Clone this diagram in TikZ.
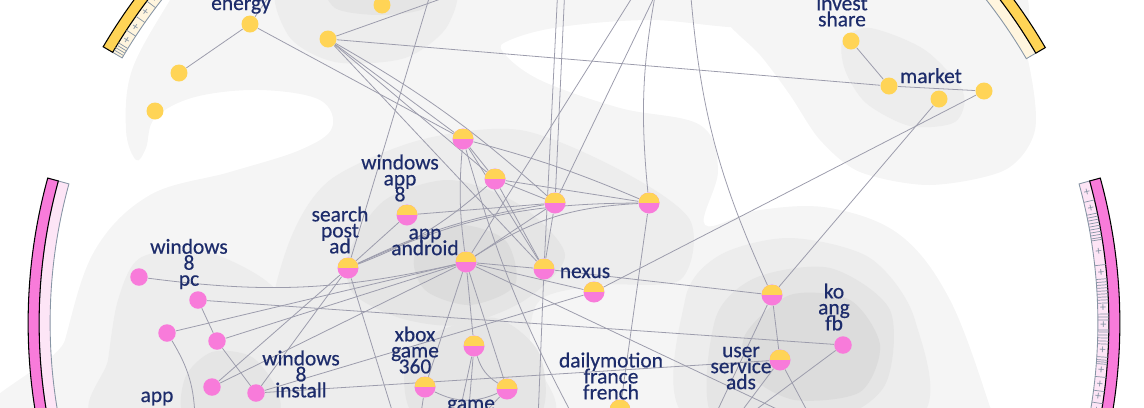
\documentclass[tikz,border=0pt]{standalone}
\usepackage{fontspec}
\setmainfont{Carlito}
\newfontfamily\lblfont{Carlito}[FakeBold=0.5]
\usepackage{tikz}

\definecolor{dotyellow}{HTML}{FFD456}
\definecolor{dotpink}{HTML}{F87BDA}
\definecolor{lightpink}{HTML}{FDE5F6}
\definecolor{lightyellow}{HTML}{FFF5DE}
\definecolor{labelblue}{HTML}{1D2C6B}
\definecolor{edgegray}{HTML}{9C9CAC}
\definecolor{cellgray}{HTML}{8795A5}
\definecolor{dens1}{HTML}{F5F5F5}
\definecolor{dens2}{HTML}{EDEDED}
\definecolor{dens3}{HTML}{E5E5E5}
\definecolor{dens4}{HTML}{DCDCDC}

\pgfdeclarelayer{density}
\pgfdeclarelayer{links}
\pgfsetlayers{density,links,main}

\tikzset{
    ynode/.style={circle, fill=dotyellow, inner sep=0pt, minimum size=0.34cm},
    pnode/.style={circle, fill=dotpink, inner sep=0pt, minimum size=0.35cm},
    hnode/.style={circle, fill=dotpink, inner sep=0pt, minimum size=0.42cm,
        path picture={\fill[dotyellow] (path picture bounding box.west)
            rectangle (path picture bounding box.north east);}},
    lbl/.style={text=labelblue, align=center, inner sep=0pt,
        font=\lblfont\fontsize{12.2}{9.1}\selectfont},
    linkline/.style={draw=edgegray, line width=0.45pt},
    cellmark/.style={text=cellgray, font=\fontsize{7}{7}\selectfont, inner sep=0pt},
}

\begin{document}
\lineskiplimit=-20pt
\begin{tikzpicture}[x=0.02cm, y=-0.02cm]

    \useasboundingbox (0,0) rectangle (1144,407);

    % 1. Draw the yellow, pink and half-and-half dots
    \foreach \nm/\x/\y in {y1/250/24, y2/179/73, y3/155/111, y4/328/39, y5/382/5,
        y6/851/41, y7/889/86, y8/939/99, y9/984/91} {
        \node[ynode] (\nm) at (\x,\y) {};
    }
    \foreach \nm/\x/\y in {p1/139/277, p2/198/300, p3/167/333, p4/217/341,
        p5/212/387, p6/256/393, p7/843/345} {
        \node[pnode] (\nm) at (\x,\y) {};
    }
    \foreach \nm/\x/\y in {h1/463/139, h2/495/179, h3/555/203, h4/649/203,
        h5/407/215, h6/466/262, h7/348/268, h8/544/269, h9/594/292,
        h10/772/295, h11/474/346, h12/425/387, h13/507/389, h14/780/360,
        h15/620/410} {
        \node[hnode] (\nm) at (\x,\y) {};
    }

    % free ends of the links that leave the picture
    \foreach \nm/\x/\y in {t1/277/-15, t2/480/-15, t3/433/-15, t4/558/-15,
        t5/565/-15, t6/640/-15, t7/660/-15, t8/657/-15, t9/690/-15,
        b1/800/420, b2/538/420, b3/713/420, b4/735/420, b5/812/420,
        b6/742/420, b7/195/420, b8/395/420, b9/458/420, b10/468/420,
        b11/420/420, b12/575/420, b13/478/420} {
        \coordinate (\nm) at (\x,\y);
    }

    % 2. Labels
    \node[lbl, anchor=base] (l-energy) at (241,10) {energy};
    \node[lbl] (l-invest) at (842,11) {invest\\share};
    \node[lbl, anchor=base] (l-market) at (931,83) {market};
    \node[lbl] (l-winapp) at (400,178) {windows\\app\\8};
    \node[lbl] (l-search) at (340,230) {search\\post\\ad};
    \node[lbl] (l-android) at (425,242) {app\\android};
    \node[lbl] (l-winpc) at (189,264) {windows\\8\\pc};
    \node[lbl, anchor=base] (l-nexus) at (585,278) {nexus};
    \node[lbl] (l-ko) at (834,307) {ko\\ang\\fb};
    \node[lbl] (l-xbox) at (415,350) {xbox\\game\\360};
    \node[lbl] (l-wininst) at (301,374) {windows\\8\\install};
    \node[lbl] (l-user) at (741,368) {user\\service\\ads};
    \node[lbl] (l-daily) at (611,376) {dailymotion\\france\\french};
    \node[lbl, anchor=base] (l-app) at (157,402) {app};
    \node[lbl, anchor=base] (l-game) at (471,410) {game};

    % 3. Links between the dots
    \begin{pgfonlayer}{links}
        \clip (0,0) rectangle (1144,407);
        \foreach \a/\b in {y1/y2, y1/t1, y1/h1, y4/t2, y4/y7, y7/y9, y6/y7,
            y8/h10, y9/h9, y4/h1, y4/h2, y4/h8, t3/h7, t4/h8, t5/h3, t6/h6,
            t7/h3, h1/h2, h1/h8, h2/h3, h2/h8, h2/h4, h5/h3, h5/h7, h6/h3,
            h6/h8, h6/h9, h6/h11, h6/h13, h6/h12, h6/b1, h3/h8, h4/h15,
            h8/h10, h8/b2, h9/p6, h10/h14, h10/b3, h14/b4, h14/b5, p7/b6,
            p2/p7, p2/p4, p4/p6, p3/h6, p4/h6, p5/h7, p5/h6, p6/h14, h7/p6,
            h7/b8, h11/b9, h11/b10, h12/b11, h13/b13} {
            \draw[linkline] (\a) -- (\b);
        }
        \draw[linkline] (y4) to[bend left=6] (h3);
        \draw[linkline] (t8) to[bend right=8] (h4);
        \draw[linkline] (t9) to[bend right=10] (h10);
        \draw[linkline] (h1) to[bend left=4] (h4);
        \draw[linkline] (h1) to[bend right=6] (h6);
        \draw[linkline] (h1) to[bend right=6] (b12);
        \draw[linkline] (h2) to[bend left=10] (h7);
        \draw[linkline] (h6) to[bend left=15] (h4);
        \draw[linkline] (h7) to[bend left=12] (h4);
        \draw[linkline] (h7) to[bend left=8] (h3);
        \draw[linkline] (p1) to[bend right=10] (h6);
        \draw[linkline] (p3) to[bend left=15] (b7);
        \draw[linkline] (h11) to[bend right=20] (h13);
        \draw[linkline] (h12) to[bend right=25] (h13);
    \end{pgfonlayer}

    % 4. Grey density clouds behind everything
    \begin{pgfonlayer}{density}
        \clip (0,0) rectangle (1144,407);
        \fill[dens1] plot[smooth cycle, tension=0.6] coordinates {
            (190,-30) (780,-30) (765,25) (650,20) (560,27) (510,40) (503,52)
            (540,80) (620,108) (700,125) (718,170) (705,225) (760,210)
            (830,208) (900,235) (950,300) (990,407) (1000,450) (40,450)
            (65,340) (95,250) (150,195) (230,172) (300,150) (332,128)
            (320,100) (260,90) (195,97) (155,118) (146,148) (136,160)
            (126,130) (132,70) (170,0)};
        \fill[dens1] plot[smooth cycle] coordinates {(700,-30) (1000,-30)
            (1028,60) (1035,130) (1005,170) (930,185) (860,172) (820,140)
            (790,95) (760,55) (725,20)};
        \fill[dens2] plot[smooth cycle] coordinates {(285,-20) (445,-20)
            (448,25) (405,58) (335,62) (288,35)};
        \fill[dens2] plot[smooth cycle] coordinates {(843,40) (870,28)
            (925,50) (963,92) (955,122) (910,126) (866,103) (845,70)};
        \fill[dens2] plot[smooth cycle] coordinates {(290,240) (330,180)
            (420,140) (520,130) (620,170) (690,220) (680,280) (600,285)
            (540,300) (530,350) (545,420) (300,420) (270,330)};
        \fill[dens2] plot[smooth cycle] coordinates {(118,300) (140,258)
            (200,250) (265,280) (305,330) (320,420) (100,420) (108,360)};
        \fill[dens2] plot[smooth cycle] coordinates {(685,300) (720,255)
            (790,238) (870,258) (915,320) (915,420) (690,420)};
        \fill[dens3] plot[smooth cycle] coordinates {(330,-20) (430,-20)
            (425,8) (380,15) (335,8)};
        \fill[dens3] plot[smooth cycle] coordinates {(350,250) (385,200)
            (450,180) (520,205) (565,255) (525,300) (460,325) (400,318)
            (352,292)};
        \fill[dens3] plot[smooth cycle] coordinates {(430,335) (495,318)
            (540,355) (535,420) (420,420) (405,365)};
        \fill[dens3] plot[smooth cycle] coordinates {(185,378) (212,352)
            (252,357) (278,392) (272,420) (188,420)};
        \fill[dens3] plot[smooth cycle] coordinates {(715,320) (755,278)
            (830,268) (890,310) (885,385) (830,420) (715,420)};
        \fill[dens4] plot[smooth cycle] coordinates {(745,335) (790,295)
            (850,300) (880,345) (860,392) (795,400) (750,375)};
        \fill[dens4] plot[smooth cycle] coordinates {(415,255) (455,225)
            (505,240) (515,285) (470,305) (425,290)};
    \end{pgfonlayer}

    % 5. Arc bars round the rim
    \begin{scope}[shift={(574,323)}]
        \clip[shift={(-574,-323)}] (0,0) rectangle (1144,407);
        \foreach \a/\b/\c in {164.6/200/lightpink, -20/15.4/lightpink,
            135/149.6/lightyellow, 30.3/45/lightyellow} {
            \filldraw[fill=\c, draw=cellgray, line width=0.5pt]
                (\a:10.48cm) arc[start angle=\a, end angle=\b, radius=10.48cm]
                -- (\b:10.70cm) arc[start angle=\b, end angle=\a, radius=10.70cm] -- cycle;
        }
        \foreach \a/\b/\c in {164.6/200/dotpink, -20/15.4/dotpink,
            135/149.6/dotyellow, 30.3/45/dotyellow} {
            \filldraw[fill=\c, draw=black, line width=0.6pt]
                (\a:10.70cm) arc[start angle=\a, end angle=\b, radius=10.70cm]
                -- (\b:10.92cm) arc[start angle=\b, end angle=\a, radius=10.92cm] -- cycle;
        }
        % cell borders and plus marks
        \foreach \a in {143.0, 145.0, 146.8, 148.4, 148.7, 149.0, 149.3,
            13.31, 11.87, 11.54, 11.21, 10.87, 10.54, 10.21, 9.88, 9.56, 9.23,
            9.01, 6.28, 4.76, 4.43, 4.11, 3.79, 3.46, 3.14, 2.81, 2.49, 2.16,
            0.97, 0.65, 0.32, -0.76, -0.97, -1.30, -1.62, -1.95, -2.27, -3.68,
            -4.00, -4.22, -4.44, -5.85, -7.37, -8.68, -10.1} {
            \draw[cellgray, line width=0.4pt] (\a:10.48cm) -- (\a:10.70cm);
        }
        \foreach \a in {142.1, 144.0, 145.9, 147.6, 14.3, 12.5, 7.7, 5.4, 1.6,
            -0.2, -3.0, -5.1, -6.7, -8.0, -9.5} {
            \node[cellmark, rotate=\a] at (\a:10.59cm) {+};
        }
    \end{scope}

\end{tikzpicture}
\end{document}
